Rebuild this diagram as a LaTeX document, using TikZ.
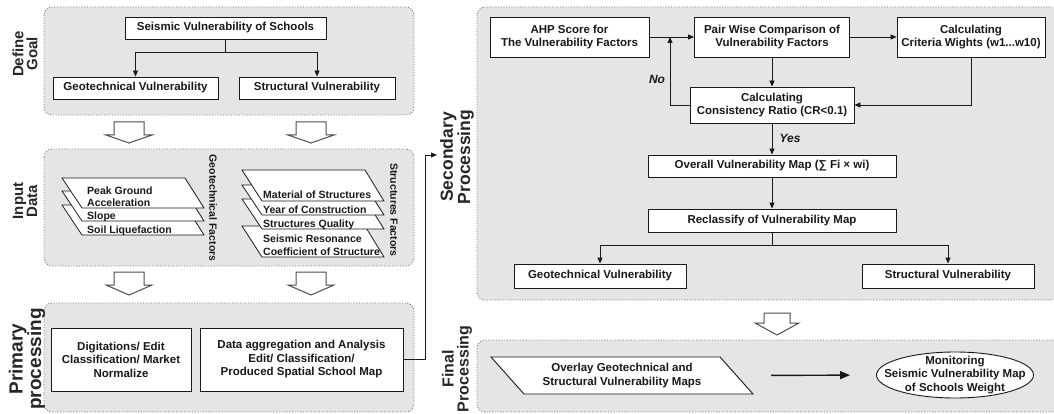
\documentclass[tikz,border=0pt]{standalone}
\usepackage{fontspec}
\setmainfont{Liberation Sans}
\usetikzlibrary{arrows.meta,shapes.geometric}
\tikzset{
  panel/.style={draw=black!55, line width=0.9pt, dash pattern=on 0.9pt off 1.8pt, fill=black!10, rounded corners=8pt},
  box/.style={draw=black!90, line width=0.9pt, fill=white, align=center, inner sep=0pt, font=\bfseries\fontsize{11.5}{13.5}\selectfont, text=black!90},
  txt/.style={align=center, inner sep=0pt, font=\bfseries\fontsize{11.5}{13.5}\selectfont, text=black!90},
  sidelab/.style={align=center, inner sep=0pt, text=black!85, rotate=90},
  faclab/.style={inner sep=0pt, font=\bfseries\fontsize{10.5}{12}\selectfont, text=black!90, rotate=-90},
  factxt/.style={anchor=base west, inner sep=0pt, font=\bfseries\fontsize{10.5}{12}\selectfont, text=black!90},
  cardst/.style={draw=black!90, line width=0.8pt, fill=white},
  arr/.style={draw=black!90, line width=0.9pt, -{Triangle[length=6pt,width=5pt]}},
  conn/.style={draw=black!90, line width=0.9pt},
  bigarr/.style={draw=black!90, line width=1.4pt, -{Triangle[length=10pt,width=8pt]}},
  hollowst/.style={draw=black!70, line width=1pt, fill=white, line join=miter},
  yn/.style={inner sep=0pt, font=\bfseries\itshape\fontsize{12}{14}\selectfont, text=black!90},
}
\begin{document}
\begin{tikzpicture}[x=1pt,y=-1pt]
\useasboundingbox (0,0) rectangle (1054,414);

% ---------- panels ----------
\draw[panel] (44,7) rectangle (414,115);
\draw[panel] (44,149) rectangle (414,266);
\draw[panel] (44,303) rectangle (414,412);
\draw[panel] (477,7) rectangle (1075,300);
\draw[panel] (477,340) rectangle (1075,412);

% ---------- side labels ----------
\node[sidelab, font=\bfseries\fontsize{15}{14}\selectfont] (lgoal) at (25,54) {Define\\Goal};
\node[sidelab, font=\bfseries\fontsize{15}{14}\selectfont] (linput) at (25,201) {Input\\Data};
\node[sidelab, font=\bfseries\fontsize{19}{17}\selectfont] (lprim) at (27,359) {Primary\\processing};
\node[sidelab, font=\bfseries\fontsize{17.5}{15}\selectfont] (lsec) at (457,157) {Secondary\\Processing};
\node[sidelab, font=\bfseries\fontsize{16}{15}\selectfont] (lfin) at (457,369) {Final\\Processing};

% ---------- define goal ----------
\node[box, minimum width=201pt, minimum height=22pt] (goal) at (225.5,28) {Seismic Vulnerability of Schools};
\node[box, minimum width=165pt, minimum height=22pt] (geo1) at (135.5,88) {Geotechnical Vulnerability};
\node[box, minimum width=156pt, minimum height=22pt] (str1) at (317,88) {Structural Vulnerability};
\coordinate (gsplit) at (225.5,52);
\draw[conn] (goal.south) -- (gsplit);
\draw[arr] (gsplit) -| (geo1.north);
\draw[arr] (gsplit) -| (str1.north);

% ---------- hollow arrows ----------
\draw[hollowst] (114,122) -- (144,122) -- (144,135) -- (152,135) -- (129,143) -- (106,135) -- (114,135) -- cycle;
\draw[hollowst] (296,122) -- (326,122) -- (326,135) -- (334,135) -- (311,143) -- (288,135) -- (296,135) -- cycle;
\draw[hollowst] (114,272) -- (144,272) -- (144,285) -- (152,285) -- (129,295) -- (106,285) -- (114,285) -- cycle;
\draw[hollowst] (296,272) -- (326,272) -- (326,285) -- (334,285) -- (311,295) -- (288,285) -- (296,285) -- cycle;
\draw[hollowst] (764,313) -- (790,313) -- (790,323) -- (799,323) -- (777,335) -- (755,323) -- (764,323) -- cycle;

% ---------- input data: geotechnical cards ----------
\draw[cardst] (62,205) -- (185,205) -- (204,235) -- (82,235) -- cycle;
\draw[cardst] (62,191) -- (185,191) -- (204,221) -- (82,221) -- cycle;
\draw[cardst] (62,178) -- (185,178) -- (204,208) -- (82,208) -- cycle;
\node[factxt] (pga1) at (87,194) {Peak Ground};
\node[factxt] (pga2) at (87,206) {Acceleration};
\node[factxt] (slope) at (87,219.5) {Slope};
\node[factxt] (soil) at (87,233.5) {Soil Liquefaction};
\node[faclab] (geofac) at (213,208) {Geotechnical Factors};

% ---------- input data: structures cards ----------
\draw[cardst] (242,226) -- (365,226) -- (384,257) -- (262,257) -- cycle;
\draw[cardst] (242,199) -- (365,199) -- (384,229) -- (262,229) -- cycle;
\draw[cardst] (242,185) -- (365,185) -- (384,215) -- (262,215) -- cycle;
\draw[cardst] (242,170) -- (365,170) -- (384,201) -- (262,201) -- cycle;
\node[factxt] (mat) at (263,198) {Material of Structures};
\node[factxt] (year) at (263,213) {Year of Construction};
\node[factxt] (qual) at (263,227.5) {Structures Quality};
\node[factxt] (res1) at (263,242) {Seismic Resonance};
\node[factxt] (res2) at (263,255) {Coefficient of Structure};
\node[faclab] (strfac) at (394,210) {Structures Factors};

% ---------- primary processing ----------
\node[box, minimum width=140pt, minimum height=63pt] (dig) at (121,359.5) {Digitations/ Edit\\Classification/ Market\\Normalize};
\node[box, minimum width=203pt, minimum height=63pt] (agg) at (301.5,359.5) {Data aggregation and Analysis\\Edit/ Classification/\\Produced Spatial School Map};
\coordinate (secin) at (437,155);
\draw[arr] (agg.east) -- ++(22,0) |- (secin);

% ---------- secondary processing ----------
\node[box, minimum width=159pt, minimum height=40pt] (ahp) at (569.5,37) {AHP Score for\\The Vulnerability Factors};
\node[box, minimum width=155pt, minimum height=40pt] (pair) at (772,37) {Pair Wise Comparison of\\Vulnerability Factors};
\node[box, minimum width=148pt, minimum height=40pt] (crit) at (971,37) {Calculating\\Criteria Wights (w1...w10)};
\node[box, minimum width=164pt, minimum height=36pt] (cons) at (772,105) {Calculating\\Consistency Ratio (CR<0.1)};
\node[box, minimum width=248pt, minimum height=22pt] (overall) at (772,166) {Overall Vulnerability Map (∑ Fi × wi)};
\node[box, minimum width=248pt, minimum height=23pt] (reclass) at (772,220.5) {Reclassify of Vulnerability Map};
\node[box, minimum width=172pt, minimum height=24pt] (geo2) at (600,276) {Geotechnical Vulnerability};
\node[box, minimum width=172pt, minimum height=24pt] (str2) at (948,276) {Structural Vulnerability};

\draw[arr] (ahp.east) -- (pair.west);
\draw[arr] (pair.east) -- (crit.west);
\draw[arr] (pair.south) -- (cons.north);
\draw[arr] (crit.south) |- (cons.east);
\coordinate (nojoin) at (670,37);
\draw[arr] (cons.west) -| (nojoin);
\node[yn] (no) at (657,79) {No};
\draw[arr] (cons.south) -- (overall.north);
\node[yn] (yes) at (790,138) {Yes};
\draw[arr] (overall.south) -- (reclass.north);
\coordinate (rsplit) at (772,245);
\draw[conn] (reclass.south) -- (rsplit);
\draw[arr] (rsplit) -| (geo2.north);
\draw[arr] (rsplit) -| (str2.north);

% ---------- final processing ----------
\draw[cardst, line width=0.9pt] (491,357) -- (720,357) -- (753,394) -- (524,394) -- cycle;
\node[txt, minimum width=262pt, minimum height=37pt] (ovl) at (622,375.5) {Overlay Geotechnical and\\Structural Vulnerability Maps};
\node[draw=black!90, line width=0.9pt, fill=white, ellipse, inner sep=0pt, minimum width=157pt, minimum height=46pt] (mon) at (955,375) {};
\node[txt, font=\bfseries\fontsize{11.5}{13.5}\selectfont] (montxt) at (mon.center) {Monitoring\\Seismic Vulnerability Map\\of Schools Weight};
\draw[bigarr, shorten <=18pt, shorten >=26pt] (ovl.east) -- (mon.west);
\end{tikzpicture}
\end{document}
